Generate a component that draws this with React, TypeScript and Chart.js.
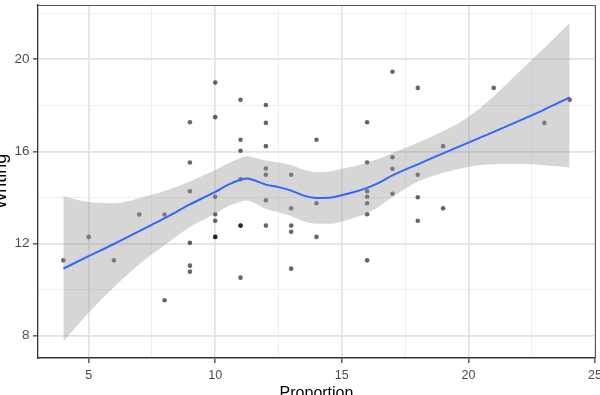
import React, { useEffect, useRef } from "react";
import { Chart, registerables } from "chart.js";

Chart.register(...registerables);

// Observations: proportion vs writing score
const pointX = [
  4, 5, 6, 7, 8, 8,
  9, 9, 9, 9, 9, 9,
  10, 10, 10, 10, 10, 10, 10,
  11, 11, 11, 11, 11, 11, 11,
  12, 12, 12, 12, 12, 12, 12,
  13, 13, 13, 13, 13,
  14, 14, 14,
  16, 16, 16, 16, 16, 16, 16,
  17, 17, 17, 17,
  18, 18, 18, 18,
  19, 19,
  21, 23, 24,
];
const pointY = [
  11.27, 12.29, 11.27, 13.26, 13.26, 9.54,
  17.27, 15.52, 14.27, 12.03, 11.04, 10.78,
  18.99, 17.49, 14.03, 13.27, 12.99, 12.29, 12.29,
  18.24, 16.51, 16.03, 14.79, 12.78, 12.78, 10.52,
  18.02, 17.24, 16.23, 15.26, 14.99, 13.88, 12.78,
  14.99, 13.53, 12.78, 12.51, 10.91,
  16.51, 13.75, 12.29,
  17.27, 15.52, 14.27, 14.03, 13.75, 13.27, 11.27,
  19.46, 15.75, 15.25, 14.16,
  18.76, 14.99, 14.01, 12.99,
  16.23, 13.53,
  18.76, 17.24, 18.24,
];

// Loess fit and its confidence band
const smoothX = [
  4, 5, 6, 7, 8, 9, 10, 10.5, 11, 11.25, 11.5, 12, 12.5, 13, 13.5, 14, 14.5,
  15, 15.5, 16, 16.5, 17, 18, 19, 20, 21, 22, 23, 24,
];
const smoothY = [
  10.91, 11.45, 11.98, 12.54, 13.1, 13.7, 14.24, 14.55, 14.77, 14.83, 14.76,
  14.56, 14.45, 14.3, 14.08, 13.98, 13.99, 14.1, 14.24, 14.42, 14.66, 14.96,
  15.44, 15.92, 16.38, 16.85, 17.33, 17.82, 18.35,
];
const bandUpper = [
  14.05, 13.8, 13.75, 13.97, 14.28, 14.7, 15.19, 15.48, 15.72, 15.79, 15.74,
  15.61, 15.53, 15.4, 15.2, 15.11, 15.13, 15.25, 15.36, 15.52, 15.69, 15.93,
  16.38, 16.88, 17.5, 18.4, 19.45, 20.5, 21.58,
];
const bandLower = [
  7.75, 9.0, 10.1, 11.1, 11.93, 12.72, 13.29, 13.62, 13.82, 13.87, 13.78,
  13.5, 13.36, 13.2, 12.97, 12.86, 12.86, 12.95, 13.12, 13.32, 13.63, 14.02,
  14.68, 15.07, 15.33, 15.44, 15.45, 15.4, 15.3,
];

const xMajorTicks = [5, 10, 15, 20, 25];
const xMinorTicks = [7.5, 12.5, 17.5, 22.5];
const yMajorTicks = [8, 12, 16, 20];
const yMinorTicks = [10, 14, 18, 22];

const xTitle = "Proportion";
const yTitle = "Writing";

const FONT = "'Liberation Sans', Arial, sans-serif";

const toXY = (xs: number[], ys: number[]) => xs.map((x, i) => ({ x, y: ys[i] }));

const panelBorder = {
  id: "panelBorder",
  afterDraw(chart: any) {
    const { ctx, chartArea } = chart;
    ctx.save();
    ctx.strokeStyle = "#555555";
    ctx.lineWidth = 1;
    ctx.beginPath();
    ctx.moveTo(chartArea.left, chartArea.top + 0.5);
    ctx.lineTo(chartArea.right + 0.5, chartArea.top + 0.5);
    ctx.lineTo(chartArea.right + 0.5, chartArea.bottom);
    ctx.stroke();
    ctx.restore();
  },
};

function gridFor(major: number[]) {
  const isMajor = (ctx: any) => ctx.tick && major.includes(ctx.tick.value);
  return {
    color: (ctx: any) => (isMajor(ctx) ? "#e2e2e2" : "#efefef"),
    lineWidth: (ctx: any) => (isMajor(ctx) ? 1.7 : 1),
    tickLength: 5,
    tickColor: (ctx: any) => (isMajor(ctx) ? "#333333" : "rgba(0,0,0,0)"),
    tickWidth: 1.2,
  };
}

export default function App() {
  const canvasRef = useRef<HTMLCanvasElement | null>(null);

  useEffect(() => {
    if (!canvasRef.current) return;
    const chart = new Chart(canvasRef.current, {
      type: "scatter",
      data: {
        datasets: [
          {
            type: "line",
            data: toXY(smoothX, smoothY),
            borderColor: "#3366FF",
            borderWidth: 2,
            pointRadius: 0,
            cubicInterpolationMode: "monotone",
            fill: false,
            order: 0,
          },
          {
            type: "line",
            data: toXY(smoothX, bandLower),
            borderWidth: 0,
            borderColor: "rgba(0,0,0,0)",
            pointRadius: 0,
            cubicInterpolationMode: "monotone",
            fill: false,
            order: 1,
          },
          {
            type: "line",
            data: toXY(smoothX, bandUpper),
            borderWidth: 0,
            borderColor: "rgba(0,0,0,0)",
            backgroundColor: "rgba(153,153,153,0.4)",
            pointRadius: 0,
            cubicInterpolationMode: "monotone",
            fill: "-1",
            order: 1,
          },
          {
            type: "scatter",
            data: toXY(pointX, pointY),
            backgroundColor: "rgba(0,0,0,0.6)",
            borderWidth: 0,
            pointRadius: 2.3,
            order: 2,
          },
        ],
      } as any,
      options: {
        animation: false,
        responsive: false,
        devicePixelRatio: 1,
        layout: { padding: { left: 0, right: 5, top: 5, bottom: 0 } },
        plugins: {
          legend: { display: false },
          tooltip: { enabled: false },
        },
        scales: {
          x: {
            type: "linear",
            min: 3,
            max: 25,
            afterBuildTicks: (s: any) => {
              s.ticks = [...xMajorTicks, ...xMinorTicks]
                .sort((a, b) => a - b)
                .map((value) => ({ value }));
            },
            afterFit: (s: any) => {
              s.height = 37;
              s.paddingLeft = 0;
              s.paddingRight = 0;
            },
            ticks: {
              autoSkip: false,
              maxRotation: 0,
              padding: 5,
              color: "#4d4d4d",
              font: { family: FONT, size: 12.5 },
              callback: (v: any) => (xMajorTicks.includes(Number(v)) ? String(v) : ""),
            },
            grid: gridFor(xMajorTicks),
            border: { display: true, color: "#333333", width: 1.5 },
            title: {
              display: true,
              text: xTitle,
              color: "#000000",
              font: { family: FONT, size: 16, lineHeight: 1 },
              padding: { top: 0, bottom: -6.6 },
            },
          },
          y: {
            type: "linear",
            min: 7.03,
            max: 22.36,
            afterBuildTicks: (s: any) => {
              s.ticks = [...yMajorTicks, ...yMinorTicks]
                .sort((a, b) => a - b)
                .map((value) => ({ value }));
            },
            afterFit: (s: any) => {
              s.width = 38;
              s.paddingTop = 0;
              s.paddingBottom = 0;
            },
            ticks: {
              autoSkip: false,
              padding: 3.5,
              color: "#4d4d4d",
              font: { family: FONT, size: 13.5 },
              callback: (v: any) => (yMajorTicks.includes(Number(v)) ? String(v) : ""),
            },
            grid: gridFor(yMajorTicks),
            border: { display: true, color: "#333333", width: 1.3 },
            title: {
              display: true,
              text: yTitle,
              color: "#000000",
              font: { family: FONT, size: 18, lineHeight: 1 },
              padding: { top: -7.7, bottom: 0 },
            },
          },
        },
      } as any,
      plugins: [panelBorder],
    });
    return () => chart.destroy();
  }, []);

  return (
    <div style={{ position: "fixed", left: 0, top: 0, width: 600, height: 395, background: "#ffffff" }}>
      <canvas ref={canvasRef} width={600} height={395} style={{ display: "block" }} />
    </div>
  );
}
